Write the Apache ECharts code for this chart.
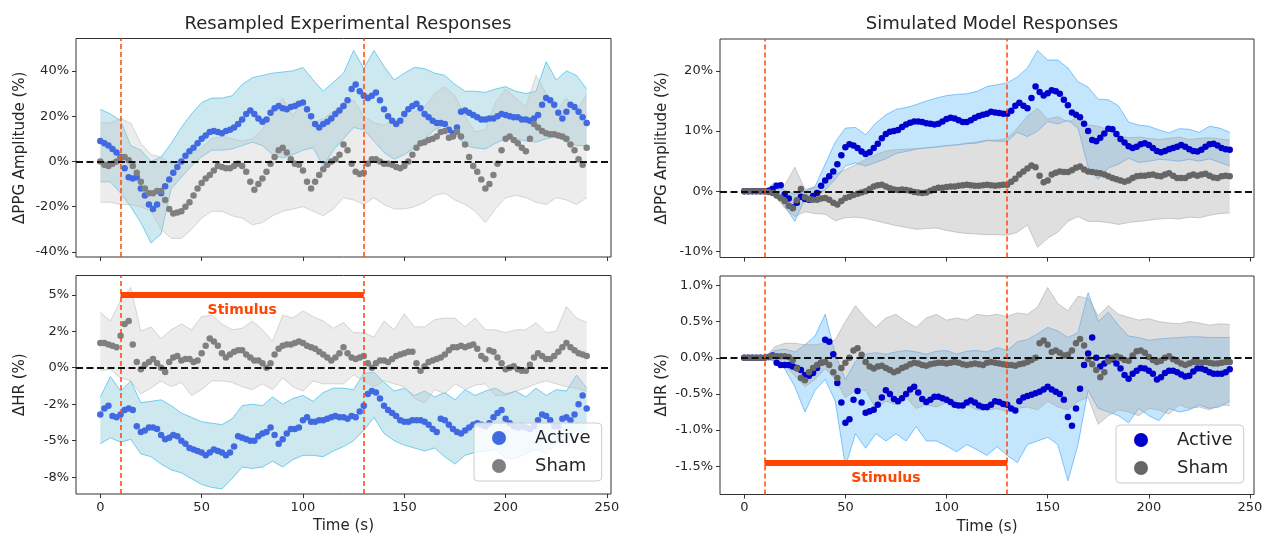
<!DOCTYPE html>
<html><head><meta charset="utf-8">
<script src="https://cdn.jsdelivr.net/npm/echarts@6/dist/echarts.min.js"></script>
<style>html,body{margin:0;padding:0;background:#fff}#c{width:1271px;height:540px}</style>
</head><body><div id="c"></div>
<script>
// ---------- sampling grids (seconds) ----------
const dotStep = 2, bandStep = 5, tEnd = 240;
const dotTime = []; for (let t = 0; t <= tEnd; t += dotStep) dotTime.push(t);
const bandTime = []; for (let t = 0; t <= tEnd; t += bandStep) bandTime.push(t);

const stimStart = 10, stimEnd = 130;
const stimLevelHR = 5, stimLevelModel = -1.45;

const xTicks = [0, 50, 100, 150, 200, 250];
const ltTicks = [-40, -20, 0, 20, 40], ltLabels = ['-40%', '-20%', '0%', '20%', '40%'];
const lbTicks = [-7.5, -5, -2.5, 0, 2.5, 5], lbLabels = ['-8%', '-5%', '-2%', '0%', '2%', '5%'];
const rtTicks = [-10, 0, 10, 20], rtLabels = ['-10%', '0%', '10%', '20%'];
const rbTicks = [-1.5, -1, -0.5, 0, 0.5, 1], rbLabels = ['-1.5%', '-1.0%', '-0.5%', '0.0%', '0.5%', '1.0%'];

// ---------- Left top: resampled experimental PPG amplitude ----------
const ltActive = [9, 8, 7, 5.5, 4, 2, -3, -7, -7.5, -7,
  -12, -15, -19, -21, -19, -14, -11, -8, -5, -2.5,
  0, 2.5, 4.5, 6, 8, 10, 11.5, 13, 13.5, 13,
  12.5, 13.5, 14, 15, 16.5, 18.5, 21, 22.5, 21, 19,
  17.5, 18.5, 21.5, 23.5, 24.5, 23.5, 23, 24, 24.5, 25.5,
  26, 23, 20, 16.5, 15, 16.5, 17.5, 19, 21, 22.5,
  24.5, 27, 32, 34, 31, 29, 28, 29, 30.5, 27,
  23, 20, 18, 16.5, 18, 21, 23, 24.5, 25.5, 23.5,
  21, 19.5, 18, 17, 17, 16.5, 14, 12.5, 15, 22,
  22.5, 21.5, 20.5, 19.5, 18.5, 18.5, 19, 19, 20, 21,
  20.5, 20, 19.5, 19.5, 18.5, 18.5, 18, 19, 20.5, 25,
  28, 27, 25, 21.5, 19, 22, 25, 24, 22, 19.5,
  17];
const ltSham = [0, -1.5, -2, -1, 0, 1.5, 2, 0.5, -2, -5,
  -9, -12, -14, -14, -13, -13, -17, -21, -23, -22.5,
  -22, -20, -18, -15, -12, -9.5, -7.5, -6, -4, -2,
  -2.5, -3, -3, -2, -1, -2, -4.5, -9, -12.5, -10,
  -7.5, -4.5, -1, 2, 5, 6, 4, 1, -1, -1.5,
  -4, -9, -12, -9, -6, -3.5, -1.5, 0, 1, 3,
  7.5, 5, -1, -4.5, -5.5, -5, -1, 1, 1, 0,
  -1, -1, -1.5, -2.5, -3, -2, 0, 3, 6, 8,
  8.5, 9.5, 10, 11, 13, 13.5, 10.5, 11, 13, 11,
  7.5, 2, -2, -4.5, -8, -12, -10, -6, -1, 5,
  10, 11, 9.5, 8, 6, 4.5, 10, 16.5, 15, 13.5,
  12.5, 12, 12, 11.5, 11, 10, 7.5, 5, 1, -1.5,
  6];
const ltActiveHi = [23, 21, 18, 7, 5, 0, 2, 8, 15, 21,
  26, 28, 28, 29, 34, 37, 38, 39, 39.5, 40,
  41.5, 36, 31, 35, 39, 49, 41, 49, 42, 36,
  39, 41.5, 41, 39, 38, 34, 31, 31, 30.5, 32,
  33, 31, 30, 31, 44, 36, 40, 38, 32];
const ltActiveLo = [-9, -9, -14, -20, -27, -36, -32, -12, -7, -2,
  2, 5, 5, 5.5, 7, 8.5, 7, 3, 1.5, 3,
  5, 6, -2, 5, 10, 15, 14, 9, 4, 1,
  3, 6, 10, 14, 16, 12, 7, 6, 5.5, 8,
  10, 10, 9, 8.5, 10, 11, 8.5, 7, 7];
const ltShamHi = [17, 17, 19, 17, 8, 3, 2, -1, 0, 3,
  6, 10, 11, 10, 9, 10, 14, 22, 28, 20,
  27, 17, 19, 22, 26, 27, 20, 17, 16, 18,
  19, 22, 24, 30, 33, 29, 20, 13, 14, 26,
  32, 28, 24, 38, 30, 22, 28, 22, 30];
const ltShamLo = [-18, -18, -19, -19, -20, -22, -30, -34, -34, -30,
  -25, -22, -22, -24, -25, -28, -27, -24, -22, -21,
  -20, -22, -24, -21, -16, -17, -19, -16, -19, -21,
  -21, -20, -18, -15, -14, -17, -19, -22, -27, -21,
  -16, -15, -16, -18, -19, -16, -17, -19, -16];

// ---------- Left bottom: resampled experimental HR ----------
const lbActive = [-3.2, -2.8, -2.6, -3.3, -3.4, -3.2, -2.9, -2.8, -2.9, -4.0,
  -4.4, -4.3, -4.1, -4.1, -4.2, -4.6, -4.9, -4.8, -4.6, -4.7,
  -5.0, -5.2, -5.5, -5.6, -5.7, -5.8, -6.0, -5.8, -5.6, -5.7,
  -5.8, -6.0, -5.8, -5.4, -4.7, -4.8, -4.9, -5.0, -5.0, -4.7,
  -4.5, -4.4, -4.1, -4.6, -5.2, -4.9, -4.5, -4.2, -4.2, -4.1,
  -3.6, -3.4, -3.7, -3.7, -3.6, -3.6, -3.5, -3.4, -3.3, -3.4,
  -3.4, -3.5, -3.3, -3.4, -3.0, -2.6, -1.8, -1.6, -1.7, -2.1,
  -2.6, -2.9, -3.1, -3.3, -3.6, -3.7, -3.7, -3.6, -3.6, -3.6,
  -3.7, -3.9, -4.2, -4.4, -3.5, -3.6, -3.9, -4.2, -4.4, -4.5,
  -4.3, -4.1, -3.9, -3.8, -3.9, -4.0, -3.8, -3.4, -3.1, -2.9,
  -3.5, -3.8, -4.0, -4.1, -4.0, -4.1, -4.2, -4.0, -3.6, -3.2,
  -3.3, -3.6, -4.0, -4.0, -3.5, -3.4, -3.6, -3.2, -2.5, -1.9,
  -2.8];
const lbSham = [1.7, 1.7, 1.6, 1.5, 1.4, 2.2, 3.0, 3.2, 1.6, 0.4,
  -0.1, 0.2, 0.4, 0.6, 0.3, 0.0, -0.3, 0.4, 0.7, 0.8,
  0.5, 0.6, 0.6, 0.4, 0.5, 1.0, 1.5, 2.0, 1.8, 1.5,
  1.0, 0.7, 0.9, 1.1, 1.2, 1.2, 0.9, 0.7, 0.5, 0.5,
  0.3, 0.0, 0.3, 0.9, 1.3, 1.5, 1.6, 1.6, 1.7, 1.8,
  1.7, 1.5, 1.4, 1.3, 1.1, 0.9, 0.7, 0.5, 0.7, 1.0,
  1.4, 1.0, 0.7, 0.6, 0.7, 0.8, 0.3, 0.0, 0.3, 0.5,
  0.5, 0.4, 0.6, 0.8, 0.9, 1.0, 1.1, 1.1, 0.3, -0.2,
  0.1, 0.4, 0.5, 0.6, 0.7, 0.9, 1.2, 1.4, 1.4, 1.5,
  1.4, 1.5, 1.6, 1.3, 0.8, 0.6, 1.2, 1.1, 0.7, 0.3,
  -0.1, 0.0, 0.1, -0.1, -0.2, -0.2, 0.2, 0.7, 1.0, 0.8,
  0.6, 0.6, 0.8, 1.1, 1.4, 1.7, 1.4, 1.2, 1.0, 0.9,
  0.8];
const lbActiveHi = [-2.0, -0.6, -1.6, -0.9, -2.4, -2.3, -2.2, -2.6, -3.1, -3.4,
  -3.7, -3.8, -3.9, -3.5, -2.6, -2.5, -2.6, -2.0, -2.5, -2.1,
  -1.9, -2.3, -1.7, -1.4, -1.4, -1.5, -0.4, -0.3, -1.0, -1.6,
  -1.4, -1.9, -1.6, -2.0, -1.7, -2.2, -1.5, -1.9, -1.6, -1.4,
  -1.8, -1.6, -2.0, -1.4, -1.9, -1.5, -1.6, -0.5, -1.4];
const lbActiveLo = [-5.2, -4.8, -5.1, -4.9, -5.9, -6.1, -6.6, -7.0, -7.2, -7.6,
  -8.0, -8.2, -8.3, -7.6, -6.8, -6.9, -6.8, -6.4, -6.8, -6.3,
  -6.0, -6.0, -6.1, -5.7, -5.4, -5.0, -4.3, -3.4, -4.5, -5.0,
  -5.3, -5.5, -5.7, -5.5, -6.1, -6.6, -6.0, -5.8, -5.7, -5.6,
  -6.2, -6.2, -5.9, -5.6, -5.9, -5.2, -4.9, -4.3, -4.6];
const lbShamHi = [3.8, 3.2, 4.6, 5.5, 2.5, 2.8, 2.0, 2.6, 3.0, 2.6,
  3.5, 3.6, 3.0, 2.6, 2.7, 3.2, 2.6, 1.8, 3.6, 3.4,
  3.9, 3.5, 3.2, 2.7, 3.1, 2.4, 2.4, 2.1, 3.2, 2.6,
  3.7, 2.8, 2.8, 3.3, 3.4, 3.4, 2.8, 3.4, 2.6, 2.6,
  2.4, 2.6, 2.6, 3.1, 2.4, 2.5, 4.2, 3.4, 3.1];
const lbShamLo = [-0.2, -0.1, -0.7, -0.9, -1.8, -1.4, -0.9, -1.3, -1.0, -1.9,
  -1.5, -0.9, -0.9, -1.0, -1.3, -1.5, -1.1, -1.5, -0.7, -1.3,
  -1.6, -0.9, -1.1, -1.1, -1.1, -0.5, -0.9, -1.3, -0.9, -1.1,
  -1.3, -2.1, -2.4, -1.5, -1.8, -1.1, -1.5, -1.2, -1.1, -1.9,
  -1.9, -1.6, -1.4, -1.1, -0.9, -1.1, -1.3, -1.4, -1.6];

// ---------- Right top: simulated model PPG amplitude ----------
const rtActive = [0, 0, 0, 0, 0, 0, 0.1, 0.4, 0.9, 1.0,
  -0.5, -1.2, -2.7, -1.9, -0.9, -1.3, -1.4, -0.8, -0.3, 0.9,
  1.8, 2.5, 3.3, 4.5, 6.0, 7.3, 7.8, 7.6, 7.2, 6.6,
  6.2, 6.5, 7.2, 7.9, 8.8, 9.5, 9.9, 10.0, 10.2, 10.7,
  11.1, 11.4, 11.6, 11.6, 11.5, 11.3, 11.2, 11.1, 11.2, 11.6,
  12.0, 12.2, 12.1, 11.8, 11.5, 11.5, 11.8, 12.2, 12.5, 12.7,
  12.9, 13.2, 13.1, 13.0, 12.9, 12.9, 13.4, 14.2, 14.7, 14.2,
  13.8, 15.5, 17.4, 16.5, 15.9, 16.3, 16.8, 16.6, 16.2, 15.2,
  14.3, 13.1, 12.7, 12.3, 11.2, 10.0, 8.5, 8.3, 8.9, 9.6,
  10.4, 10.3, 9.5, 8.7, 8.1, 7.5, 7.2, 7.4, 7.8, 8.0,
  7.7, 7.2, 6.7, 6.5, 6.7, 7.0, 7.2, 7.4, 7.7, 7.4,
  7.0, 6.7, 6.6, 6.9, 7.4, 7.8, 7.9, 7.6, 7.2, 7.0,
  6.9];
const rtSham = [0, 0, 0, 0, 0, 0, -0.1, -0.3, -0.7, -1.1,
  -1.6, -2.4, -2.8, -1.5, 0.4, -1.0, -1.3, -1.4, -1.4, -1.2,
  -1.1, -1.4, -1.9, -2.2, -1.6, -1.1, -0.9, -0.6, -0.4, -0.2,
  0.0, 0.4, 0.8, 1.0, 1.1, 0.8, 0.5, 0.3, 0.2, 0.3,
  0.2, 0.1, -0.1, -0.2, -0.3, -0.2, 0.1, 0.4, 0.6, 0.6,
  0.7, 0.8, 0.8, 0.9, 1.0, 1.1, 1.0, 0.9, 0.9, 1.0,
  1.1, 1.0, 0.9, 1.0, 1.1, 1.1, 1.6, 2.1, 2.8, 3.3,
  3.8, 4.3, 4.0, 2.6, 1.5, 1.8, 2.8, 3.1, 3.3, 3.2,
  3.2, 3.5, 3.9, 4.1, 3.6, 3.3, 3.2, 3.1, 3.0, 2.8,
  2.5, 2.2, 2.0, 1.8, 1.6, 1.8, 2.2, 2.5, 2.6, 2.6,
  2.7, 2.8, 2.6, 2.5, 2.8, 3.0, 2.6, 2.2, 2.2, 2.2,
  2.6, 2.8, 2.6, 2.8, 2.9, 2.6, 2.3, 2.2, 2.5, 2.6,
  2.5];
const rtActiveHi = [0, 0, 0, 1.5, 0.2, -0.5, 0, 0.8, 4.5, 8.2,
  10.5, 10.6, 9.4, 11.3, 12.7, 13.6, 13.9, 14.4, 15.0, 15.5,
  15.9, 16.1, 16.2, 16.6, 17.4, 17.7, 18.0, 19.0, 20.5, 23.4,
  21.8, 21.8, 20.5, 18.2, 17.3, 15.3, 15.2, 14.2, 11.5, 11.0,
  10.8, 10.2, 9.7, 10.4, 10.3, 9.8, 10.8, 10.5, 9.8];
const rtActiveLo = [0, 0, 0, 0, -2.5, -5.0, -1.2, -0.8, 0.2, 2.0,
  4.2, 4.7, 4.2, 4.8, 5.4, 6.3, 6.6, 7.0, 7.2, 7.4,
  7.6, 7.7, 7.9, 8.0, 8.4, 8.3, 8.3, 9.8, 9.1, 10.0,
  11.6, 11.2, 11.8, 10.5, 4.0, 2.0, 3.9, 4.5, 5.5, 4.8,
  5.0, 5.3, 5.2, 5.0, 5.3, 5.0, 5.4, 4.8, 4.2];
const rtShamHi = [0, 0, 0, 0.5, 1.0, 4.0, 0.3, 0.7, 1.5, 2.8,
  3.6, 4.4, 5.3, 6.1, 6.7, 6.9, 7.0, 7.1, 7.2, 7.3,
  7.5, 7.7, 8.0, 8.2, 8.5, 8.5, 8.8, 10.5, 12.5, 13.8,
  12.0, 12.4, 11.5, 12.3, 11.0, 10.8, 10.2, 9.2, 8.9, 9.0,
  8.8, 8.6, 8.8, 9.0, 8.6, 8.8, 8.9, 8.7, 8.5];
const rtShamLo = [0, 0, 0, -0.8, -2.8, -4.2, -3.4, -3.7, -3.8, -4.9,
  -4.4, -4.3, -4.5, -4.9, -5.3, -5.7, -6.0, -6.3, -6.2, -6.1,
  -6.5, -6.8, -7.0, -7.1, -7.2, -7.2, -7.3, -6.8, -5.6, -9.3,
  -7.8, -6.8, -5.0, -4.2, -5.0, -5.0, -5.2, -5.5, -5.2, -5.0,
  -4.8, -4.6, -4.5, -4.6, -4.3, -4.4, -4.0, -3.7, -3.6];

// ---------- Right bottom: simulated model HR ----------
const rbActive = [0, 0, 0, 0, 0, 0, 0.01, 0.03, -0.07, -0.1,
  -0.1, -0.1, -0.12, -0.14, -0.17, -0.24, -0.25, -0.21, -0.14, -0.07,
  0.25, 0.22, 0.05, -0.35, -0.62, -0.9, -0.85, -0.58, -0.46, -0.62,
  -0.76, -0.74, -0.72, -0.65, -0.55, -0.45, -0.5, -0.57, -0.6, -0.56,
  -0.5, -0.44, -0.4, -0.48, -0.57, -0.61, -0.58, -0.54, -0.54, -0.56,
  -0.58, -0.61, -0.65, -0.66, -0.66, -0.62, -0.59, -0.62, -0.66, -0.68,
  -0.68, -0.65, -0.6, -0.61, -0.64, -0.65, -0.7, -0.73, -0.6, -0.55,
  -0.53, -0.51, -0.49, -0.47, -0.44, -0.4, -0.44, -0.47, -0.5, -0.58,
  -0.82, -0.94, -0.7, -0.43, -0.1, 0.06, 0.28, 0.0, -0.12, -0.08,
  0.0, -0.02, -0.08, -0.15, -0.24, -0.29, -0.22, -0.18, -0.14, -0.15,
  -0.18, -0.22, -0.3, -0.27, -0.21, -0.18, -0.18, -0.2, -0.23, -0.26,
  -0.25, -0.19, -0.15, -0.15, -0.17, -0.2, -0.22, -0.22, -0.22, -0.2,
  -0.16];
const rbSham = [0, 0, 0, 0, 0, 0, 0.01, 0.02, 0.02, 0.02,
  0.02, 0.01, -0.03, -0.15, -0.28, -0.31, -0.2, -0.14, -0.1, -0.07,
  -0.06, -0.1, -0.2, -0.28, -0.14, -0.07, 0.0, 0.1, 0.13, 0.04,
  -0.06, -0.12, -0.15, -0.12, -0.11, -0.14, -0.17, -0.2, -0.18, -0.14,
  -0.12, -0.09, -0.07, -0.08, -0.1, -0.11, -0.09, -0.08, -0.07, -0.07,
  -0.08, -0.07, -0.06, -0.07, -0.09, -0.1, -0.09, -0.08, -0.09, -0.1,
  -0.07, -0.06, -0.07, -0.08, -0.09, -0.1, -0.1, -0.11, -0.09, -0.08,
  -0.06, -0.03, 0.0, 0.2, 0.24, 0.18, 0.08, 0.1, 0.07, 0.03,
  0.04, 0.1, 0.2, 0.26, 0.17, -0.02, -0.09, -0.17, -0.27, -0.2,
  -0.05, 0.0, 0.02, 0.0, -0.03, -0.04, 0.03, 0.09, 0.1, 0.07,
  0.01, -0.03, -0.06, -0.04, 0.0, 0.02, -0.02, -0.05, -0.08, -0.1,
  -0.08, -0.06, -0.06, -0.07, -0.06, -0.07, -0.08, -0.08, -0.07, -0.06,
  -0.06];
const rbActiveHi = [0, 0, 0, 0.1, 0.12, 0.08, 0.18, 0.3, 0.6, 0.05,
  -0.3, -0.05, 0.05, 0.07, 0.05, 0.08, 0.1, 0.08, 0.05, 0.09,
  0.1, 0.05, 0.09, 0.1, 0.08, 0.14, 0.1, 0.22, 0.25, 0.33,
  0.42, 0.37, 0.28, 0.35, 0.9, 0.5, 0.63, 0.45, 0.3, 0.28,
  0.24, 0.26, 0.27, 0.28, 0.29, 0.29, 0.28, 0.28, 0.28];
const rbActiveLo = [0, 0, 0, -0.05, -0.15, -0.4, -0.75, -0.45, -0.3, -0.6,
  -1.5, -1.05, -1.25, -1.05, -1.15, -1.05, -1.15, -0.95, -1.15, -1.15,
  -1.22, -1.3, -1.2, -1.27, -1.35, -1.23, -1.35, -1.45, -1.2, -1.15,
  -1.1, -1.2, -1.7, -1.2, -0.45, -0.7, -0.75, -0.8, -0.9, -0.7,
  -0.8, -0.87, -0.7, -0.75, -0.72, -0.65, -0.7, -0.68, -0.6];
const rbShamHi = [0, 0, 0, 0.15, 0.2, 0.2, 0.18, 0.18, 0.2, 0.25,
  0.5, 0.72, 0.55, 0.42, 0.55, 0.6, 0.5, 0.42, 0.55, 0.6,
  0.52, 0.55, 0.52, 0.6, 0.58, 0.6, 0.57, 0.62, 0.6, 0.7,
  0.97, 0.75, 0.65, 0.85, 0.82, 0.58, 0.72, 0.6, 0.56, 0.52,
  0.54, 0.5, 0.48, 0.47, 0.5, 0.48, 0.45, 0.47, 0.46];
const rbShamLo = [0, 0, 0, -0.05, -0.1, -0.25, -0.4, -0.3, -0.15, -0.3,
  -0.55, -0.45, -0.45, -0.7, -0.6, -0.65, -0.55, -0.7, -0.65, -0.68,
  -0.62, -0.7, -0.65, -0.72, -0.73, -0.7, -0.75, -0.7, -0.68, -0.72,
  -0.6, -0.68, -0.72, -0.6, -0.55, -0.92, -0.8, -0.72, -0.75, -0.8,
  -0.7, -0.72, -0.78, -0.65, -0.7, -0.68, -0.72, -0.65, -0.66];

// ---------- styling ----------
const FONT = 'DejaVu Sans', TXT = '#262626', STIM = '#ff4500';
const C = {
  lActive: '#4169e1', lSham: '#808080', rActive: '#0000cd', rSham: '#666666',
  lActFill: 'rgba(173,216,230,0.6)', lActEdge: 'rgba(30,180,235,0.6)',
  lShFill: 'rgba(200,200,200,0.35)', lShEdge: 'rgba(190,190,190,0.6)',
  rActFill: 'rgba(135,206,250,0.5)', rActEdge: 'rgba(30,144,255,0.5)',
  rShFill: 'rgba(170,170,170,0.38)', rShEdge: 'rgba(160,160,160,0.5)'
};
const X_MIN = -12, X_MAX = 252;
const grids = [
  {left: 76, top: 38.5, width: 535, height: 218.5},
  {left: 76, top: 275.5, width: 535, height: 218.5},
  {left: 720, top: 39, width: 534, height: 218.5},
  {left: 720, top: 276, width: 534, height: 218.5}
];
const yRanges = [[-42.2, 54.3], [-8.65, 6.32], [-11.0, 25.3], [-1.89, 1.13]];

function nearest(ticks, v) { let b = 0; ticks.forEach((t, i) => { if (Math.abs(t - v) < Math.abs(ticks[b] - v)) b = i; }); return b; }

function xAxis(idx, labels) {
  return {
    gridIndex: idx, type: 'value', min: X_MIN, max: X_MAX, position: 'bottom',
    axisLine: {show: false, onZero: false}, splitLine: {show: false},
    axisTick: {show: true, length: 4, lineStyle: {color: '#333'}, customValues: xTicks},
    axisLabel: {show: labels, customValues: xTicks, fontSize: 13, color: TXT, margin: 7, fontFamily: FONT},
    name: labels ? 'Time (s)' : '', nameLocation: 'middle', nameGap: 25,
    nameTextStyle: {fontSize: 15, color: TXT, fontFamily: FONT}
  };
}
function yAxis(idx, ticks, labels, name, gap) {
  return {
    gridIndex: idx, type: 'value', min: yRanges[idx][0], max: yRanges[idx][1], position: 'left',
    axisLine: {show: false, onZero: false}, splitLine: {show: false},
    axisTick: {show: true, length: 4, lineStyle: {color: '#333'}, customValues: ticks},
    axisLabel: {customValues: ticks, formatter: v => labels[nearest(ticks, v)], fontSize: 13, color: TXT, margin: 7, fontFamily: FONT},
    name: name, nameLocation: 'middle', nameGap: gap,
    nameTextStyle: {fontSize: 15, color: TXT, fontFamily: FONT}
  };
}
function band(idx, lo, hi, fill, edge) {
  return {
    type: 'custom', xAxisIndex: idx, yAxisIndex: idx, silent: true, z: 1, animation: false,
    data: bandTime.map((t, i) => [t, lo[i], hi[i]]),
    encode: {x: 0, y: [1, 2]},
    renderItem: function (params, api) {
      if (params.dataIndex !== 0) return null;
      const up = bandTime.map((t, i) => api.coord([t, hi[i]]));
      const dn = bandTime.map((t, i) => api.coord([t, lo[i]]));
      return {type: 'group', children: [
        {type: 'polygon', shape: {points: up.concat(dn.slice().reverse())}, style: {fill: fill, stroke: 'none'}},
        {type: 'polyline', shape: {points: up}, style: {stroke: edge, lineWidth: 1, fill: 'none'}},
        {type: 'polyline', shape: {points: dn}, style: {stroke: edge, lineWidth: 1, fill: 'none'}}
      ]};
    }
  };
}
function dots(idx, name, vals, color, marks) {
  const s = {
    type: 'scatter', name: name, xAxisIndex: idx, yAxisIndex: idx, symbolSize: 6.5, z: 3,
    silent: true, animation: false, itemStyle: {color: color, opacity: 1},
    data: dotTime.map((t, i) => [t, vals[i]])
  };
  if (marks) s.markLine = marks;
  return s;
}
function refLines(barLevel) {
  const data = [
    {yAxis: 0, lineStyle: {color: '#111', type: [7, 3.5], width: 2}},
    {xAxis: stimStart, lineStyle: {color: STIM, type: [5, 3], width: 1.5}},
    {xAxis: stimEnd, lineStyle: {color: STIM, type: [5, 3], width: 1.5}}
  ];
  if (barLevel !== undefined) {
    data.push([
      {coord: [stimStart, barLevel], lineStyle: {color: STIM, type: 'solid', width: 6, cap: 'butt'},
        label: {show: true, formatter: 'Stimulus', position: 'insideMiddleBottom', distance: 9,
          color: STIM, fontWeight: 'bold', fontSize: 14, fontFamily: FONT}},
      {coord: [stimEnd, barLevel]}
    ]);
  }
  return {silent: true, symbol: ['none', 'none'], animation: false, label: {show: false}, data: data};
}
function legend(left, top, aCol, sCol) {
  return {
    left: left, top: top, orient: 'vertical', selectedMode: false, icon: 'circle',
    data: [{name: 'Active', itemStyle: {color: aCol}}, {name: 'Sham', itemStyle: {color: sCol}}],
    itemWidth: 50, itemHeight: 14, itemGap: 8, padding: [5, 11, 5, 18],
    textStyle: {fontSize: 18, color: TXT, fontFamily: FONT, padding: [0, 0, 0, 6], lineHeight: 20},
    backgroundColor: 'rgba(255,255,255,0.8)', borderColor: '#cccccc', borderWidth: 1, borderRadius: 4
  };
}

const option = {
  animation: false,
  backgroundColor: '#ffffff',
  title: [
    {text: 'Resampled Experimental Responses', left: 343, top: 10, textAlign: 'center',
      textStyle: {fontSize: 18, fontWeight: 'normal', color: TXT, fontFamily: FONT}},
    {text: 'Simulated Model Responses', left: 987, top: 10, textAlign: 'center',
      textStyle: {fontSize: 18, fontWeight: 'normal', color: TXT, fontFamily: FONT}}
  ],
  grid: grids.map(g => Object.assign({show: true, borderColor: '#333', borderWidth: 1, backgroundColor: 'transparent'}, g)),
  xAxis: [xAxis(0, false), xAxis(1, true), xAxis(2, false), xAxis(3, true)],
  yAxis: [
    yAxis(0, ltTicks, ltLabels, 'ΔPPG Amplitude (%)', 48),
    yAxis(1, lbTicks, lbLabels, 'ΔHR (%)', 48),
    yAxis(2, rtTicks, rtLabels, 'ΔPPG Amplitude (%)', 50),
    yAxis(3, rbTicks, rbLabels, 'ΔHR (%)', 50)
  ],
  legend: [legend(474, 423, C.lActive, C.lSham), legend(1116, 425, C.rActive, C.rSham)],
  series: [
    band(0, ltActiveLo, ltActiveHi, C.lActFill, C.lActEdge),
    band(0, ltShamLo, ltShamHi, C.lShFill, C.lShEdge),
    dots(0, 'Active', ltActive, C.lActive),
    dots(0, 'Sham', ltSham, C.lSham, refLines()),

    band(1, lbActiveLo, lbActiveHi, C.lActFill, C.lActEdge),
    band(1, lbShamLo, lbShamHi, C.lShFill, C.lShEdge),
    dots(1, 'Active', lbActive, C.lActive),
    dots(1, 'Sham', lbSham, C.lSham, refLines(stimLevelHR)),

    band(2, rtActiveLo, rtActiveHi, C.rActFill, C.rActEdge),
    band(2, rtShamLo, rtShamHi, C.rShFill, C.rShEdge),
    dots(2, 'Active', rtActive, C.rActive),
    dots(2, 'Sham', rtSham, C.rSham, refLines()),

    band(3, rbActiveLo, rbActiveHi, C.rActFill, C.rActEdge),
    band(3, rbShamLo, rbShamHi, C.rShFill, C.rShEdge),
    dots(3, 'Active', rbActive, C.rActive),
    dots(3, 'Sham', rbSham, C.rSham, refLines(stimLevelModel))
  ]
};
const chart = echarts.init(document.getElementById('c'), null, {renderer: 'canvas'});
chart.setOption(option);
</script>
</body></html>
